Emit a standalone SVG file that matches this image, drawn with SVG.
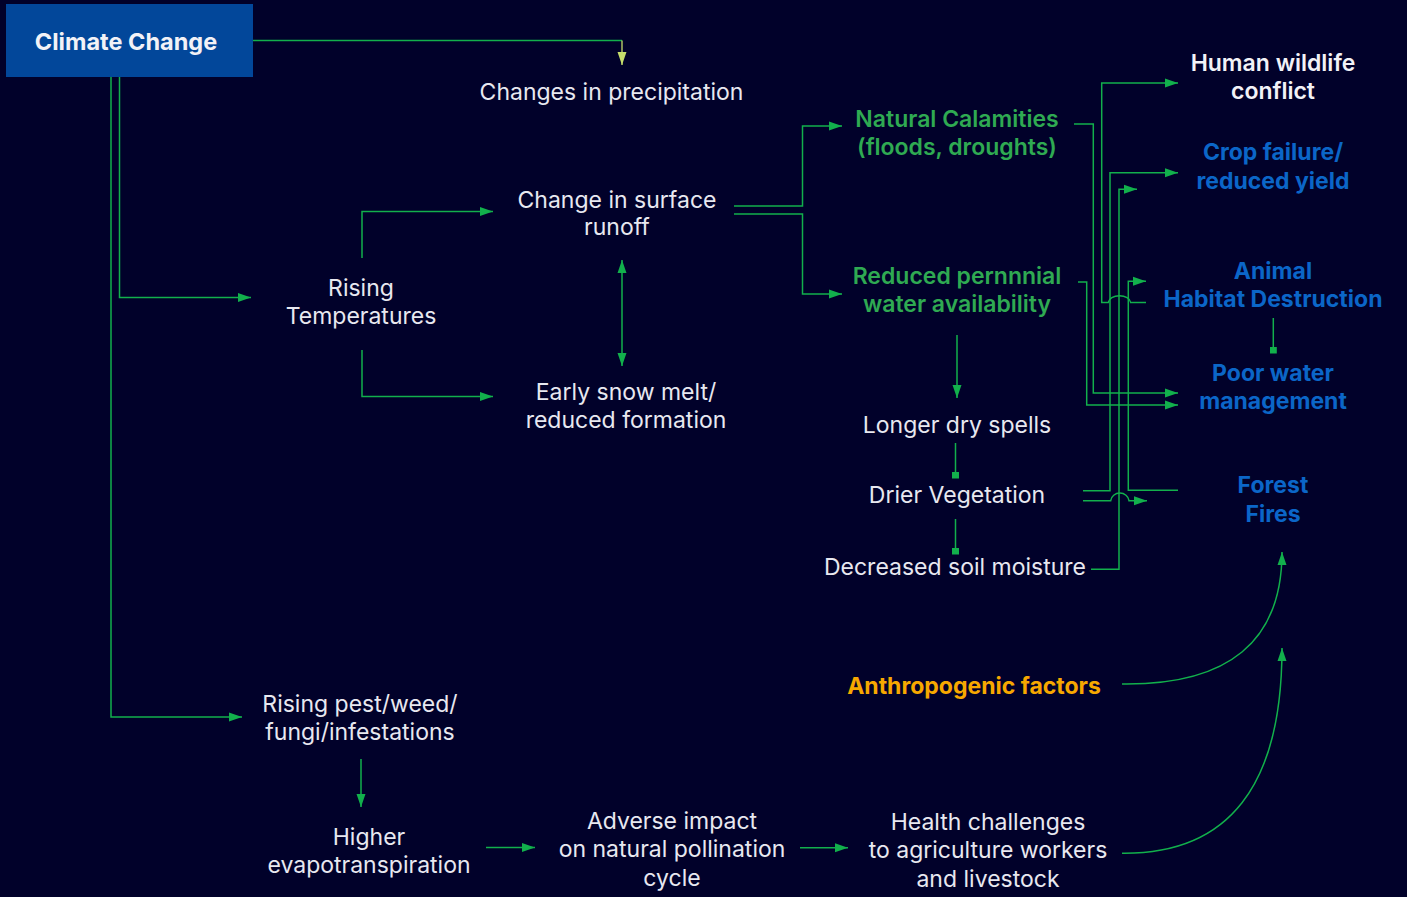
<svg xmlns="http://www.w3.org/2000/svg" width="1407" height="897" viewBox="0 0 1407 897">
<style>
  .t{font-family:Inter,"Liberation Sans",sans-serif;font-size:23px;text-anchor:middle;fill:#e8e8f0}
  .b{font-weight:600}
  .g{fill:#2faa52}
  .bl{fill:#0b66c8;font-weight:700}
  .o{fill:#f7a800;font-weight:700}
  .c{fill:none;stroke:#12b04c;stroke-width:1.5}
  .a{marker-end:url(#arr)}
  .s{marker-end:url(#sq)}
</style>
<defs>
  <marker id="arr" markerUnits="userSpaceOnUse" markerWidth="14" markerHeight="10" refX="13" refY="5" orient="auto-start-reverse">
    <path d="M0,0.5 L13,5 L0,9.5 z" fill="#12b04c"/>
  </marker>
  <marker id="arrY" markerUnits="userSpaceOnUse" markerWidth="10" markerHeight="14" refX="5" refY="13" orient="0">
    <path d="M0.5,0 L5,13 L9.5,0 z" fill="#c6de6c"/>
  </marker>
  <marker id="sq" markerUnits="userSpaceOnUse" markerWidth="7" markerHeight="7" refX="3.5" refY="3.5" orient="0">
    <rect x="0" y="0" width="7" height="7" fill="#12b04c"/>
  </marker>
</defs>
<rect width="1407" height="897" fill="#01012a"/>

<g id="connectors">
  <path class="c" d="M253,40.5 H622"/>
  <path d="M622,40.5 V65" fill="none" stroke="#c6de6c" stroke-width="1.3" marker-end="url(#arrY)"/>
  <path class="c a" d="M119.5,77 V297.5 H251"/>
  <path class="c a" d="M111,77 V717 H242"/>
  <path class="c a" d="M362,258 V211.5 H493"/>
  <path class="c a" d="M362,350 V396.5 H493"/>
  <path class="c a" d="M622,260 V366" marker-start="url(#arr)"/>
  <path class="c a" d="M734,206 H802.5 V126 H842"/>
  <path class="c a" d="M734,214 H802.5 V294 H842"/>
  <path class="c a" d="M957,335 V398"/>
  <path class="c s" d="M955.5,443 V475"/>
  <path class="c s" d="M955.5,519 V551"/>
  <path class="c a" d="M1074,124 H1093.3 V393 H1178"/>
  <path class="c a" d="M1078,282 H1086.7 V405 H1178"/>
  <path class="c a" d="M1146,302.5 H1130.7 A11.3,7.5 0 0 0 1108.2,302.5 H1101.7 V83 H1178"/>
  <path class="c a" d="M1083,490.7 H1110 V172.7 H1178"/>
  <path class="c a" d="M1091,569.3 H1119 V189.3 H1137"/>
  <path class="c a" d="M1178,490.2 H1128.3 V281.3 H1146"/>
  <path class="c a" d="M1083,500.7 H1110.7 A9.2,8.5 0 0 1 1129,500.7 H1147"/>
  <path class="c s" d="M1273.3,318 V350"/>
  <path class="c a" d="M361,759 V807"/>
  <path class="c a" d="M486,847.5 H535"/>
  <path class="c a" d="M800,847.7 H848"/>
  <path class="c a" d="M1122,684 Q1282,686 1282,552"/>
  <path class="c a" d="M1122,853.3 Q1282,855 1282,648"/>
</g>

<g id="climate-change">
  <rect x="6" y="4" width="247" height="73" fill="#02479a"/>
  <text class="t" x="126" y="50" style="fill:#f2f2f7;font-weight:700;font-size:23.5px">Climate Change</text>
</g>
<g id="changes-precipitation"><text class="t" x="611.5" y="100">Changes in precipitation</text></g>
<g id="surface-runoff"><text class="t" x="617" y="208">Change in surface</text><text class="t" x="617" y="235">runoff</text></g>
<g id="rising-temperatures"><text class="t" x="361" y="296">Rising</text><text class="t" x="361" y="324">Temperatures</text></g>
<g id="snow-melt"><text class="t" x="626" y="400">Early snow melt/</text><text class="t" x="626" y="428">reduced formation</text></g>
<g id="natural-calamities"><text class="t b g" x="957" y="127">Natural Calamities</text><text class="t b g" x="957" y="155">(floods, droughts)</text></g>
<g id="reduced-water"><text class="t b g" x="957" y="284">Reduced pernnnial</text><text class="t b g" x="957" y="312">water availability</text></g>
<g id="longer-dry-spells"><text class="t" x="957" y="433">Longer dry spells</text></g>
<g id="drier-vegetation"><text class="t" x="957" y="503">Drier Vegetation</text></g>
<g id="decreased-soil-moisture"><text class="t" x="955" y="575">Decreased soil moisture</text></g>
<g id="human-wildlife-conflict"><text class="t b" x="1273" y="71" style="fill:#f2f2f7">Human wildlife</text><text class="t b" x="1273" y="99" style="fill:#f2f2f7">conflict</text></g>
<g id="crop-failure"><text class="t bl" x="1273" y="160">Crop failure/</text><text class="t bl" x="1273" y="189">reduced yield</text></g>
<g id="animal-habitat"><text class="t bl" x="1273" y="279">Animal</text><text class="t bl" x="1273" y="307">Habitat Destruction</text></g>
<g id="poor-water-management"><text class="t bl" x="1273" y="381">Poor water</text><text class="t bl" x="1273" y="409">management</text></g>
<g id="forest-fires"><text class="t bl" x="1273" y="493">Forest</text><text class="t bl" x="1273" y="522">Fires</text></g>
<g id="anthropogenic-factors"><text class="t o" x="974" y="694">Anthropogenic factors</text></g>
<g id="rising-pest"><text class="t" x="360" y="712">Rising pest/weed/</text><text class="t" x="360" y="740">fungi/infestations</text></g>
<g id="higher-evapotranspiration"><text class="t" x="369" y="845">Higher</text><text class="t" x="369" y="873">evapotranspiration</text></g>
<g id="adverse-pollination"><text class="t" x="672" y="829">Adverse impact</text><text class="t" x="672" y="857">on natural pollination</text><text class="t" x="672" y="886">cycle</text></g>
<g id="health-challenges"><text class="t" x="988" y="830">Health challenges</text><text class="t" x="988" y="858">to agriculture workers</text><text class="t" x="988" y="887">and livestock</text></g>
</svg>
